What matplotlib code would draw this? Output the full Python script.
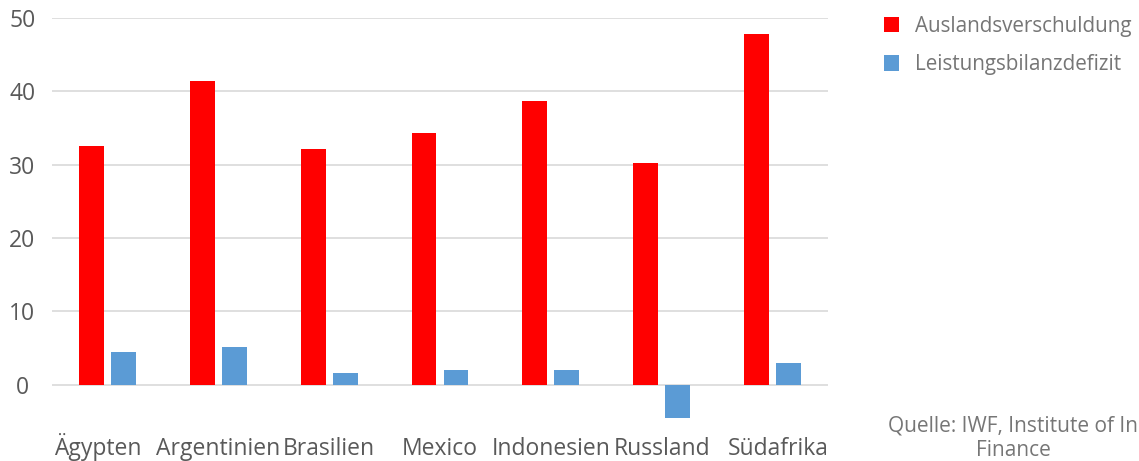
import numpy as np
import matplotlib.pyplot as plt
from matplotlib.transforms import ScaledTranslation

plt.rcParams['font.family'] = ['Open Sans', 'DejaVu Sans']

# Länder und Werte (in % des BIP)
laender = ['Ägypten', 'Argentinien', 'Brasilien', 'Mexico', 'Indonesien', 'Russland', 'Südafrika']
auslandsverschuldung = [32.5, 41.4, 32.2, 34.3, 38.7, 30.2, 47.8]
leistungsbilanzdefizit = [4.4, 5.1, 1.6, 2.0, 2.0, -4.5, 3.0]
y_ticks = [0, 10, 20, 30, 40, 50]

rot = '#FF0000'
blau = '#5B9BD5'
grau = '#595959'

fig = plt.figure(figsize=(11.39, 4.61), dpi=100)
ax = fig.add_axes([52/1139, 1 - 425/461, 776/1139, (425 - 18)/461])

x = np.arange(len(laender))
w = 0.225
ax.bar(x - w/2 - 0.032, auslandsverschuldung, width=w, color=rot, zorder=3,
       label='Auslandsverschuldung')
ax.bar(x + w/2 + 0.032, leistungsbilanzdefizit, width=w, color=blau, zorder=3,
       label='Leistungsbilanzdefizit')

ax.set_xlim(-0.5, len(laender) - 0.5)
ax.set_ylim(-5.5, 50)
ax.set_yticks(y_ticks)
ax.set_xticks(x)
ax.set_xticklabels(laender)
ax.grid(axis='y', color='#D9D9D9', linewidth=1.2, zorder=0)
for s in ax.spines.values():
    s.set_visible(False)
ax.tick_params(axis='both', length=0, labelsize=16.5, colors=grau)
ax.tick_params(axis='y', pad=21.5)
ax.tick_params(axis='x', pad=21.5)
for lbl in ax.get_yticklabels():
    lbl.set_horizontalalignment('center')
xlabels = ax.get_xticklabels()
for lbl in xlabels:
    lbl.set_verticalalignment('baseline')
# äußere Beschriftungen etwas nach außen rücken
xlabels[0].set_transform(xlabels[0].get_transform() + ScaledTranslation(-10/100, 0, fig.dpi_scale_trans))
xlabels[-1].set_transform(xlabels[-1].get_transform() + ScaledTranslation(6/100, 0, fig.dpi_scale_trans))

leg = ax.legend(loc='upper left', bbox_to_anchor=(865/1139, 1 + 3/461),
                bbox_transform=fig.transFigure, frameon=False,
                fontsize=14.9, handlelength=0.75, handleheight=0.75,
                handletextpad=0.75, labelspacing=0.85, labelcolor='#767676')

fig.text(1013/1139, 1 - 438/461, 'Quelle: IWF, Institute of In\nFinance',
         ha='center', va='center', fontsize=15, color='#767676',
         linespacing=1.2, multialignment='center')

fig.savefig('out.png', dpi=100)
